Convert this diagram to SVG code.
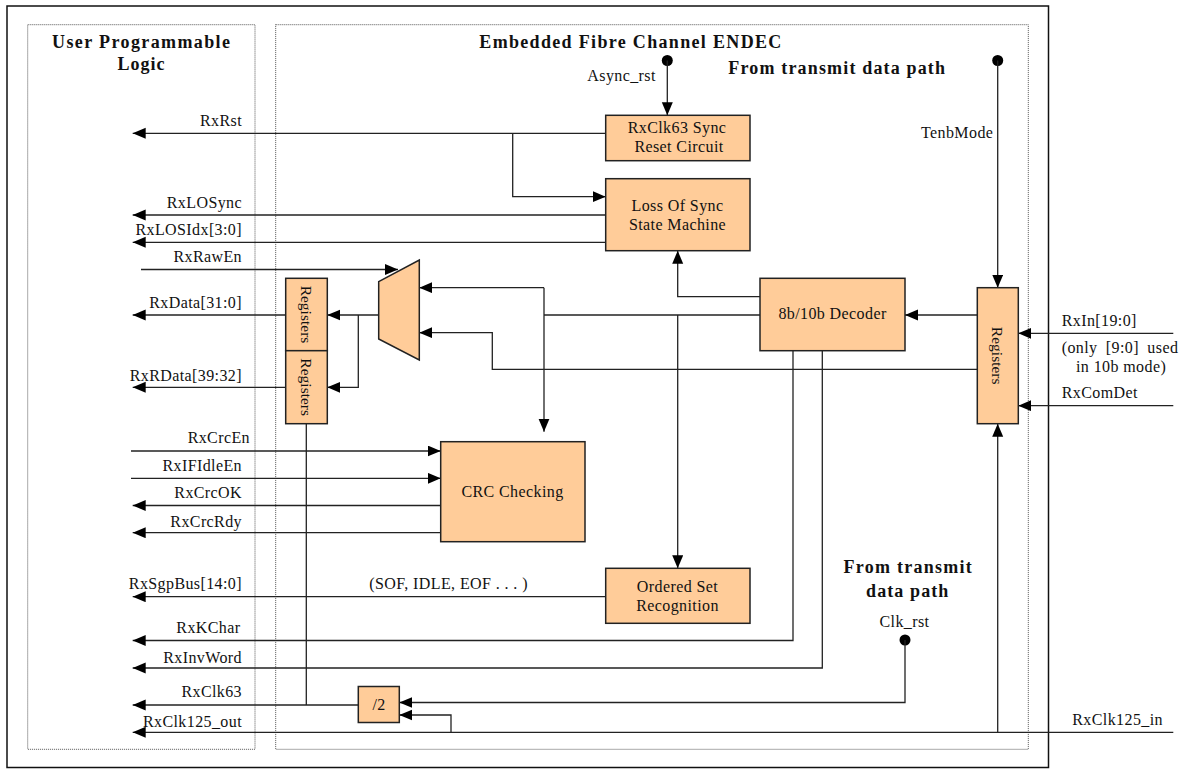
<svg xmlns="http://www.w3.org/2000/svg" width="1184" height="770" viewBox="0 0 1184 770">
<defs>
<marker id="ah" markerWidth="14" markerHeight="12" refX="13" refY="5.5" orient="auto" markerUnits="userSpaceOnUse">
<path d="M0,0 L13,5.5 L0,11 z" fill="#000"/>
</marker>
<style>
.t{font-family:"Liberation Serif","Times New Roman",serif;font-size:16px;letter-spacing:0.4px;fill:#111}
.e{text-anchor:end}
.m{text-anchor:middle}
.b{font-family:"Liberation Serif","Times New Roman",serif;font-size:18px;font-weight:bold;fill:#111}
.r{font-family:"Liberation Serif","Times New Roman",serif;font-size:15.5px;fill:#111;text-anchor:middle}
.box{fill:#FFCC99;stroke:#222;stroke-width:1.5}
.w{fill:none;stroke:#222;stroke-width:1.3}
.a{marker-end:url(#ah)}
.dot{fill:none;stroke:#555;stroke-width:1;stroke-dasharray:1 1}
</style>
</defs>
<rect width="1184" height="770" fill="#fff"/>
<g id="frame">
<rect x="7" y="6" width="1041.5" height="761.5" fill="none" stroke="#111" stroke-width="1.5"/>
<rect class="dot" x="27.7" y="24.7" width="227.3" height="724.6"/>
<rect class="dot" x="275.7" y="24.7" width="752.6" height="724.6"/>
<text class="b" x="141" y="48" text-anchor="middle" textLength="178" lengthAdjust="spacing">User Programmable</text>
<text class="b" x="141" y="69.5" text-anchor="middle" textLength="47" lengthAdjust="spacing">Logic</text>
<text class="b" x="479.3" y="48" textLength="302" lengthAdjust="spacing">Embedded Fibre Channel ENDEC</text>
<text class="b" x="728.3" y="74" textLength="216.7" lengthAdjust="spacing">From transmit data path</text>
<text class="b" x="907.7" y="573.3" text-anchor="middle" textLength="128.3" lengthAdjust="spacing">From transmit</text>
<text class="b" x="907.2" y="596.7" text-anchor="middle" textLength="82.3" lengthAdjust="spacing">data path</text>
</g>
<g id="connectors">
<circle cx="667.3" cy="60.5" r="5.5" fill="#000"/>
<circle cx="997.7" cy="60.5" r="5.5" fill="#000"/>
<circle cx="905" cy="640" r="5.5" fill="#000"/>
<path class="w a" d="M667.3,60.5 V115.3"/>
<path class="w a" d="M997.7,60.5 V287.7"/>
<path class="w a" d="M605.7,133.3 H132.7"/>
<path class="w a" d="M512.7,133.3 V196.7 H605.7"/>
<path class="w a" d="M605.7,215 H132.7"/>
<path class="w a" d="M605.7,242.3 H132.7"/>
<path class="w a" d="M141,269.5 H398"/>
<path class="w a" d="M378.7,315 H327.3"/>
<path class="w a" d="M358.3,315 V387.3 H327.3"/>
<path class="w a" d="M285.7,315 H132.7"/>
<path class="w a" d="M285.7,387.3 H132.7"/>
<path class="w" d="M306.3,423.7 V705"/>
<path class="w a" d="M131,451 H440.7"/>
<path class="w a" d="M131,478.3 H440.7"/>
<path class="w a" d="M440.7,505.5 H132.7"/>
<path class="w a" d="M440.7,532.7 H132.7"/>
<path class="w" d="M760,315 H544"/>
<path class="w a" d="M544,287.7 V431.7"/>
<path class="w a" d="M544,287.7 H419.3"/>
<path class="w a" d="M677.7,315 V568.3"/>
<path class="w a" d="M760,296.7 H677.7 V250.7"/>
<path class="w a" d="M977.3,369.3 H492.3 V332.7 H419.3"/>
<path class="w a" d="M977.3,315 H905"/>
<path class="w a" d="M1173.3,333.3 H1018.3"/>
<path class="w a" d="M1173.3,405.7 H1018.3"/>
<path class="w a" d="M997.7,732.3 V423.7"/>
<path class="w a" d="M1173.3,732.3 H132.7"/>
<path class="w a" d="M793,350.7 V640.5 H132.7"/>
<path class="w a" d="M822.3,350.7 V668 H132.7"/>
<path class="w a" d="M905,640 V702.5 H399.3"/>
<path class="w a" d="M451,732.3 V715 H399.3"/>
<path class="w a" d="M358.3,705 H132.7"/>
<path class="w a" d="M605.7,596.7 H132.7"/>
<text class="t" x="587.3" y="81">Async_rst</text>
<text class="t e" x="993.3" y="138.3">TenbMode</text>
<text class="t e" x="242" y="126">RxRst</text>
<text class="t e" x="242" y="208.3">RxLOSync</text>
<text class="t e" x="242" y="235">RxLOSIdx[3:0]</text>
<text class="t e" x="242" y="262.3">RxRawEn</text>
<text class="t e" x="242" y="308.3">RxData[31:0]</text>
<text class="t e" x="242" y="381">RxRData[39:32]</text>
<text class="t e" x="250" y="443.3">RxCrcEn</text>
<text class="t e" x="242" y="470.7">RxIFIdleEn</text>
<text class="t e" x="242" y="498.3">RxCrcOK</text>
<text class="t e" x="242" y="526.7">RxCrcRdy</text>
<text class="t e" x="242" y="589.3">RxSgpBus[14:0]</text>
<text class="t" x="369.3" y="589.3">(SOF, IDLE, EOF . . . )</text>
<text class="t e" x="240.5" y="633.3">RxKChar</text>
<text class="t e" x="242" y="662.7">RxInvWord</text>
<text class="t e" x="242" y="697.3">RxClk63</text>
<text class="t e" x="242" y="726.7">RxClk125_out</text>
<text class="t" x="1061.7" y="326">RxIn[19:0]</text>
<text class="t" x="1061.7" y="353.3" word-spacing="4">(only [9:0] used</text>
<text class="t" x="1076" y="371.7">in 10b mode)</text>
<text class="t" x="1061.7" y="398.3">RxComDet</text>
<text class="t" x="1072.3" y="725">RxClk125_in</text>
<text class="t m" x="904.5" y="626.7">Clk_rst</text>
</g>
<g id="sync-reset">
<rect class="box" x="605.7" y="115.3" width="144.3" height="45.4"/>
<text class="t m" x="677" y="133.3">RxClk63 Sync</text>
<text class="t m" x="679" y="152.3">Reset Circuit</text>
</g>
<g id="loss-of-sync">
<rect class="box" x="605.7" y="178.7" width="144.3" height="72"/>
<text class="t m" x="677.5" y="211">Loss Of Sync</text>
<text class="t m" x="677.5" y="230">State Machine</text>
</g>
<g id="mux">
<polygon class="box" points="378.7,281.7 419.3,260 419.3,360 378.7,339"/>
</g>
<g id="registers-data">
<rect class="box" x="285.7" y="278.3" width="41.6" height="72.4"/>
<text class="r" transform="translate(306.5,314.5) rotate(90)" dy="0.35em">Registers</text>
</g>
<g id="registers-rdata">
<rect class="box" x="285.7" y="350.7" width="41.6" height="73"/>
<text class="r" transform="translate(306.5,387.2) rotate(90)" dy="0.35em">Registers</text>
</g>
<g id="decoder">
<rect class="box" x="760" y="278.3" width="145" height="72.4"/>
<text class="t m" x="832.5" y="319.3">8b/10b Decoder</text>
</g>
<g id="registers-in">
<rect class="box" x="977.3" y="287.7" width="41" height="136"/>
<text class="r" transform="translate(997.8,355.7) rotate(90)" dy="0.35em">Registers</text>
</g>
<g id="crc">
<rect class="box" x="440.7" y="441.7" width="144.3" height="100"/>
<text class="t m" x="512.5" y="496.7">CRC Checking</text>
</g>
<g id="ordered-set">
<rect class="box" x="605.7" y="568.3" width="144.3" height="55"/>
<text class="t m" x="677.5" y="591.7">Ordered Set</text>
<text class="t m" x="677.5" y="611">Recognition</text>
</g>
<g id="div2">
<rect class="box" x="358.3" y="686.5" width="41" height="36"/>
<text class="t m" x="379" y="710">/2</text>
</g>
</svg>
